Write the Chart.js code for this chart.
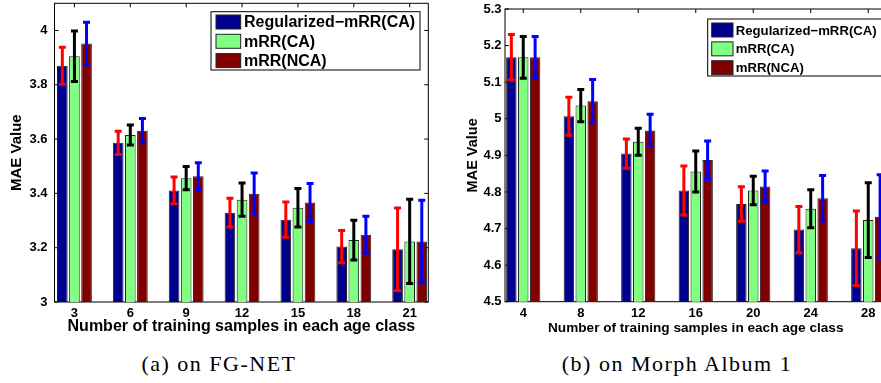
<!DOCTYPE html>
<html lang="en">
<head>
<meta charset="UTF-8">
<title>MAE vs number of training samples</title>
<script src="https://cdn.jsdelivr.net/npm/chart.js"></script>
<style>
  body { margin: 0; width: 881px; height: 383px; overflow: hidden; background: #fff; position: relative; }
  canvas { position: absolute; top: 0; }
  #fgnet { left: 0; }
  #morph { left: 440px; }
  .caption {
    position: absolute; top: 353px; line-height: 22px;
    font-family: 'Liberation Serif', serif; font-size: 22px; letter-spacing: 1.5px;
    white-space: nowrap; transform: translateX(-50%);
  }
</style>
</head>
<body>
<canvas id="fgnet" width="440" height="345"></canvas>
<canvas id="morph" width="460" height="345"></canvas>
<div class="caption" style="left:219px">(a) on FG-NET</div>
<div class="caption" style="left:677px">(b) on Morph Album 1</div>

<script>
// series names
const seriesNames = ['Regularized\u2212mRR(CA)', 'mRR(CA)', 'mRR(NCA)'];

// FG-NET
const fgnetSamples = [3, 6, 9, 12, 15, 18, 21];
const fgnetRegMrrCA = [3.870, 3.586, 3.411, 3.329, 3.303, 3.204, 3.194];
const fgnetMrrCA = [3.905, 3.615, 3.456, 3.377, 3.347, 3.228, 3.223];
const fgnetMrrNCA = [3.952, 3.631, 3.463, 3.399, 3.366, 3.248, 3.223];
const fgnetRegErr = [0.068, 0.043, 0.049, 0.053, 0.065, 0.059, 0.152];
const fgnetCAErr = [0.093, 0.037, 0.043, 0.061, 0.071, 0.073, 0.155];
const fgnetNCAErr = [0.078, 0.045, 0.050, 0.076, 0.070, 0.068, 0.152];
const fgnetTicks = [3, 3.2, 3.4, 3.6, 3.8, 4];

// Morph Album 1
const morphSamples = [4, 8, 12, 16, 20, 24, 28];
const morphRegMrrCA = [5.168, 5.007, 4.905, 4.804, 4.767, 4.697, 4.646];
const morphMrrCA = [5.168, 5.036, 4.937, 4.856, 4.804, 4.754, 4.723];
const morphMrrNCA = [5.168, 5.048, 4.968, 4.887, 4.815, 4.783, 4.732];
const morphRegErr = [0.062, 0.052, 0.040, 0.067, 0.047, 0.063, 0.102];
const morphCAErr = [0.057, 0.044, 0.037, 0.056, 0.039, 0.052, 0.102];
const morphNCAErr = [0.057, 0.059, 0.044, 0.052, 0.042, 0.062, 0.115];
const morphTicks = [4.5, 4.6, 4.7, 4.8, 4.9, 5, 5.1, 5.2, 5.3];

const barColors = ['#00008f', '#80ff80', '#800000'];
const errColors = ['#ff0000', '#000000', '#0000ff'];

Chart.defaults.font.family = "'Liberation Sans', Arial, sans-serif";
Chart.defaults.font.weight = 'bold';
Chart.defaults.color = '#000';

// error bars on top of every bar
const errorBars = {
  id: 'errorBars',
  afterDatasetsDraw(chart) {
    const ctx = chart.ctx;
    const y = chart.scales.y;
    ctx.save();
    ctx.lineWidth = 3;
    chart.data.datasets.forEach((ds, i) => {
      const meta = chart.getDatasetMeta(i);
      ctx.strokeStyle = ds.errColor;
      meta.data.forEach((bar, j) => {
        const v = ds.data[j].y;
        const top = y.getPixelForValue(v + ds.err[j]);
        const bot = y.getPixelForValue(v - ds.err[j]);
        ctx.beginPath();
        ctx.moveTo(bar.x, top); ctx.lineTo(bar.x, bot);
        ctx.moveTo(bar.x - 3.5, top); ctx.lineTo(bar.x + 3.5, top);
        ctx.moveTo(bar.x - 3.5, bot); ctx.lineTo(bar.x + 3.5, bot);
        ctx.stroke();
      });
    });
    ctx.restore();
  }
};

// box round the plot with inward ticks on all four sides
const frameBox = {
  id: 'frameBox',
  beforeDatasetsDraw(chart) {
    const {ctx, chartArea: a, scales: {x, y}} = chart;
    ctx.save();
    ctx.strokeStyle = '#000';
    ctx.lineWidth = 1;
    ctx.beginPath();
    x.ticks.forEach(t => {
      const px = x.getPixelForValue(t.value);
      ctx.moveTo(px, a.top); ctx.lineTo(px, a.top + 4);
      ctx.moveTo(px, a.bottom); ctx.lineTo(px, a.bottom - 4);
    });
    y.ticks.forEach(t => {
      const py = y.getPixelForValue(t.value);
      ctx.moveTo(a.left, py); ctx.lineTo(a.left + 4, py);
      ctx.moveTo(a.right, py); ctx.lineTo(a.right - 4, py);
    });
    ctx.stroke();
    ctx.strokeRect(a.left, a.top, a.right - a.left, a.bottom - a.top);
    ctx.restore();
  }
};

// legend drawn inside the plot
const boxLegend = {
  id: 'boxLegend',
  afterDraw(chart, args, o) {
    const ctx = chart.ctx;
    ctx.save();
    ctx.fillStyle = '#fff';
    ctx.fillRect(o.x, o.y, o.w, o.h);
    ctx.strokeStyle = '#000';
    ctx.lineWidth = 1;
    ctx.strokeRect(o.x, o.y, o.w, o.h);
    ctx.font = 'bold ' + o.size + "px 'Liberation Sans', Arial, sans-serif";
    ctx.textBaseline = 'middle';
    chart.data.datasets.forEach((ds, i) => {
      const cy = o.y + o.first + i * o.row;
      ctx.fillStyle = ds.backgroundColor;
      ctx.fillRect(o.x + o.swX, cy - o.swH / 2, o.swW, o.swH);
      ctx.strokeStyle = '#222';
      ctx.strokeRect(o.x + o.swX, cy - o.swH / 2, o.swW, o.swH);
      ctx.fillStyle = '#000';
      ctx.fillText(ds.label, o.x + o.textX, cy + 1);
    });
    ctx.restore();
  }
};

function makeChart(id, samples, series, errs, yTicks, s) {
  const datasets = series.map((vals, i) => ({
    label: seriesNames[i],
    data: samples.map((c, j) => ({x: c, y: vals[j]})),
    err: errs[i],
    errColor: errColors[i],
    backgroundColor: barColors[i],
    borderColor: '#222',
    borderWidth: 1,
    categoryPercentage: s.catPct,
    barPercentage: 0.88
  }));

  return new Chart(document.getElementById(id), {
    type: 'bar',
    data: {datasets},
    plugins: [frameBox, errorBars, boxLegend],
    options: {
      responsive: false,
      animation: false,
      layout: {padding: {top: s.top, right: s.right, left: 0, bottom: 0}},
      plugins: {
        legend: {display: false},
        tooltip: {enabled: false},
        boxLegend: s.legend
      },
      scales: {
        x: {
          type: 'linear',
          offset: false,
          min: s.xMin,
          max: s.xMax,
          grid: {display: false, drawTicks: false},
          border: {display: false},
          afterBuildTicks: axis => { axis.ticks = samples.map(v => ({value: v})); },
          afterFit: axis => {
            axis.height = s.xAxisH;
            axis.paddingLeft = 0; axis.paddingRight = 0;
          },
          ticks: {font: {size: 13}, padding: 4, maxRotation: 0},
          title: {
            display: true,
            text: 'Number of training samples in each age class',
            font: {size: s.xTitleSize},
            padding: {top: 0, bottom: s.xTitlePad}
          }
        },
        y: {
          min: yTicks[0],
          max: s.yMax,
          grid: {display: false, drawTicks: false},
          border: {display: false},
          afterBuildTicks: axis => { axis.ticks = yTicks.map(v => ({value: v})); },
          afterFit: axis => {
            axis.width = s.yAxisW;
            axis.paddingTop = 0; axis.paddingBottom = 0;
          },
          ticks: {font: {size: 13}, padding: s.yTickPad, callback: v => String(Number(v.toFixed(2)))},
          title: {
            display: true,
            text: 'MAE Value',
            font: {size: s.yTitleSize},
            padding: {top: s.yTitlePad, bottom: 0}
          }
        }
      }
    }
  });
}

makeChart('fgnet', fgnetSamples,
  [fgnetRegMrrCA, fgnetMrrCA, fgnetMrrNCA],
  [fgnetRegErr, fgnetCAErr, fgnetNCAErr],
  fgnetTicks,
  {
    xMin: 1.93, xMax: 22.0, yMax: 4.1, catPct: 0.65,
    top: 3.3, right: 11.7, yAxisW: 54.5, xAxisH: 43,
    yTickPad: 7, yTitleSize: 15, yTitlePad: 8,
    xTitleSize: 16, xTitlePad: 8.5,
    legend: {x: 211, y: 11.7, w: 209, h: 58.3, swX: 5, swW: 24.7, swH: 14, first: 10.3, row: 19.3, textX: 33, size: 16}
  });

makeChart('morph', morphSamples,
  [morphRegMrrCA, morphMrrCA, morphMrrNCA],
  [morphRegErr, morphCAErr, morphNCAErr],
  morphTicks,
  {
    xMin: 2.73, xMax: 29.27, yMax: 5.3, catPct: 0.62,
    top: 9, right: 13.5, yAxisW: 65, xAxisH: 43.3,
    yTickPad: 3.5, yTitleSize: 14.5, yTitlePad: 24.5,
    xTitleSize: 13.6, xTitlePad: 8.5,
    legend: {x: 267.7, y: 19, w: 180, h: 57, swX: 4, swW: 21.3, swH: 14, first: 11, row: 18.85, textX: 28, size: 13.2}
  });
</script>
</body>
</html>
